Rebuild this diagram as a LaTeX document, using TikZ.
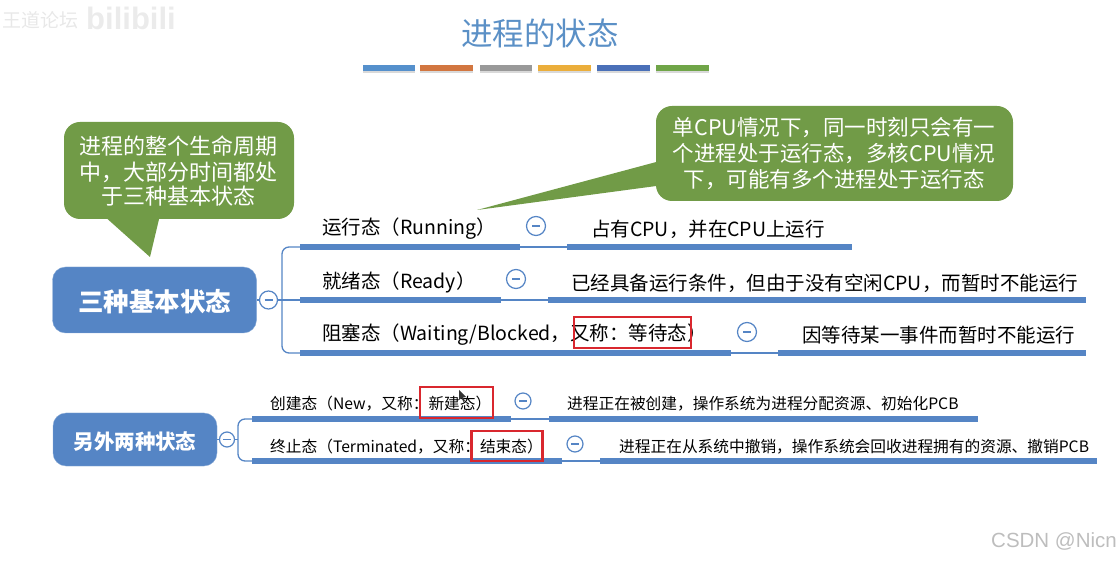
\documentclass[tikz,border=0pt]{standalone}
\usepackage{fontspec}
\setmainfont{Noto Sans CJK SC}
\newfontfamily\wmfont{Liberation Sans}
\usetikzlibrary{positioning}
\definecolor{mapblue}{HTML}{5585C5}
\definecolor{notegreen}{HTML}{719B47}
\definecolor{titleblue}{HTML}{5B90C6}
\definecolor{boxred}{HTML}{D9272E}
\newcommand{\fs}[1]{\fontsize{#1}{#1}\selectfont}

\begin{document}
\begin{tikzpicture}[x=1pt,y=-1pt]
  \tikzstyle{branch}=[draw=mapblue,line width=1.3pt]
  \tikzstyle{bar}=[draw=mapblue,line width=5.4pt]
  \tikzstyle{toggle}=[circle,draw=mapblue,fill=white,line width=1.2pt,inner sep=0pt,
    path picture={\draw[mapblue,line width=1.1pt]
      ([xshift=-4pt]path picture bounding box.center) -- ([xshift=4pt]path picture bounding box.center);}]
  \tikzstyle{root}=[fill=mapblue,draw=mapblue!70!white,rounded corners=13pt,text=white,font=\bfseries,inner sep=0pt]
  \tikzstyle{note}=[fill=notegreen,rounded corners=16pt,text=white,align=center,inner sep=0pt]
  \tikzstyle{big}=[anchor=west,inner sep=0pt,font=\fs{19.5}]
  \tikzstyle{small}=[anchor=west,inner sep=0pt,font=\fs{15.7}]
  \tikzstyle{redbox}=[draw=boxred,line width=2.2pt,inner sep=0pt]
  \useasboundingbox (0,0) rectangle (1120,561);

  % watermarks
  \node (wm1) at (40,20) {\fs{19}\textcolor{black!9}{王道论坛}};
  \node (wm2) at (131,18) {\wmfont\bfseries\fs{31}\textcolor{black!8}{bilibili}};
  \node (wm3) at (1054,541) {\wmfont\fs{20.5}\textcolor{black!26}{CSDN @Nicn}};

  % title
  \node (title) at (540,33) {\fs{31.5}\textcolor{titleblue}{进程的状态}};
  \foreach \a/\b/\c in {363/415/5590CC,420/473/D27640,480/532/999999,538/591/EBAE3B,597/650/4A70B8,656/709/70A548}{
    \definecolor{barcol}{HTML}{\c}
    \fill[black!15] (\a,67) rectangle (\b,73);
    \fill[barcol] (\a,65) rectangle (\b,71);
  }

  % callouts
  \fill[notegreen] (103,215) -- (150,257) -- (160,215) -- cycle;
  \node[note,minimum width=230pt,minimum height=97pt] (note1) at (179,170.5) {};
  \node[text=white,align=center,font=\fs{22},inner sep=0pt] (note1t) at (178.5,171)
    {进程的整个生命周期\\[4pt]中，大部分时间都处\\[2pt]于三种基本状态};
  \fill[notegreen] (660,161) -- (477,210) -- (660,185.5) -- cycle;
  \node[note,minimum width=357pt,minimum height=95pt] (note2) at (834.5,153.5) {};
  \node[text=white,align=center,font=\fs{21.5},inner sep=0pt] (note2t) at (834,153.5)
    {单CPU情况下，同一时刻只会有一\\[4.5pt]个进程处于运行态，多核CPU情况\\[4.5pt]下，可能有多个进程处于运行态};

  % roots
  \node[root,minimum width=204pt,minimum height=66pt] (base) at (154.5,300) {\raisebox{-11.5pt}[0pt][0pt]{\fs{25.5}三种基本状态}};
  \node[root,minimum width=164pt,minimum height=53pt] (other) at (135,439.5) {\raisebox{-9.5pt}[0pt][0pt]{\fs{20.5}另外两种状态}};

  % underlines
  \foreach \n/\y/\xa/\xb/\xc/\xd in {run/247/300/520/567/852,rdy/300/300/501/548/1086,blk/353/300/731/778/1086,new/419/252/511/549/978,end/461/252/562/600/1097}{
    \coordinate (\n a) at (\xa,\y);
    \coordinate (\n b) at (\xb,\y);
    \coordinate (\n c) at (\xc,\y);
    \coordinate (\n d) at (\xd,\y);
    \draw[branch] (\n b) -- (\n c);
    \draw[bar] (\n a) -- (\n b);
    \draw[bar] (\n c) -- (\n d);
  }
  \coordinate (trunkT) at (282,247);
  \coordinate (trunkB) at (282,353);
  \coordinate (trunkS) at (238,419);
  \coordinate (trunkE) at (238,461);
  \draw[branch,rounded corners=7pt] (runa) -- (trunkT) -- (trunkB) -- (blka);
  \draw[branch,rounded corners=7pt] (newa) -- (trunkS) -- (trunkE) -- (enda);

  % toggles
  \node[toggle,minimum size=18pt] (t0) at (268.5,300) {};
  \node[toggle,minimum size=15pt] (t00) at (227,439.5) {};
  \draw[branch] (base) -- (t0);
  \draw[branch] (t0) -- (rdya);
  \draw[branch] (other) -- (t00);
  \draw[branch] (t00) -- (238,439.5);
  \node[toggle,minimum size=19pt] (t1) at (536,226) {};
  \node[toggle,minimum size=19pt] (t2) at (516,279) {};
  \node[toggle,minimum size=19pt] (t3) at (747,332) {};
  \node[toggle,minimum size=16pt] (t4) at (523,401) {};
  \node[toggle,minimum size=16pt] (t5) at (575,444) {};

  % state labels
  \node[big] (run) at (322,229) {运行态（Running）};
  \node[big] (rdy) at (322,282) {就绪态（Ready）};
  \node[big] (blk) at (322,335) {阻塞态（Waiting/Blocked，又称：等待态）};
  \node[small] (new) at (270,404) {创建态（New，又称：新建态）};
  \node[small] (end) at (270,447) {终止态（Terminated，又称：结束态）};

  % descriptions
  \node[big] (runtxt) at (591,229) {占有CPU，并在CPU上运行};
  \node[big] (rdytxt) at (571,283) {已经具备运行条件，但由于没有空闲CPU，而暂时不能运行};
  \node[big] (blktxt) at (802,335) {因等待某一事件而暂时不能运行};
  \node[small] (newtxt) at (567,404) {进程正在被创建，操作系统为进程分配资源、初始化PCB};
  \node[small] (endtxt) at (619,447) {进程正在从系统中撤销，操作系统会回收进程拥有的资源、撤销PCB};

  % red boxes
  \node[redbox,minimum width=117pt,minimum height=31pt] (box1) at (632.5,332.5) {};
  \node[redbox,minimum width=73pt,minimum height=31pt] (box2) at (456.5,402.5) {};
  \node[redbox,minimum width=71pt,minimum height=30pt] (box3) at (507,446) {};

  % pointer
  \fill[black!80] (459,390) -- (459,400) -- (461.5,398) -- (463.5,402) -- (465,401) -- (463,397.5) -- (466,397) -- cycle;
\end{tikzpicture}
\end{document}
